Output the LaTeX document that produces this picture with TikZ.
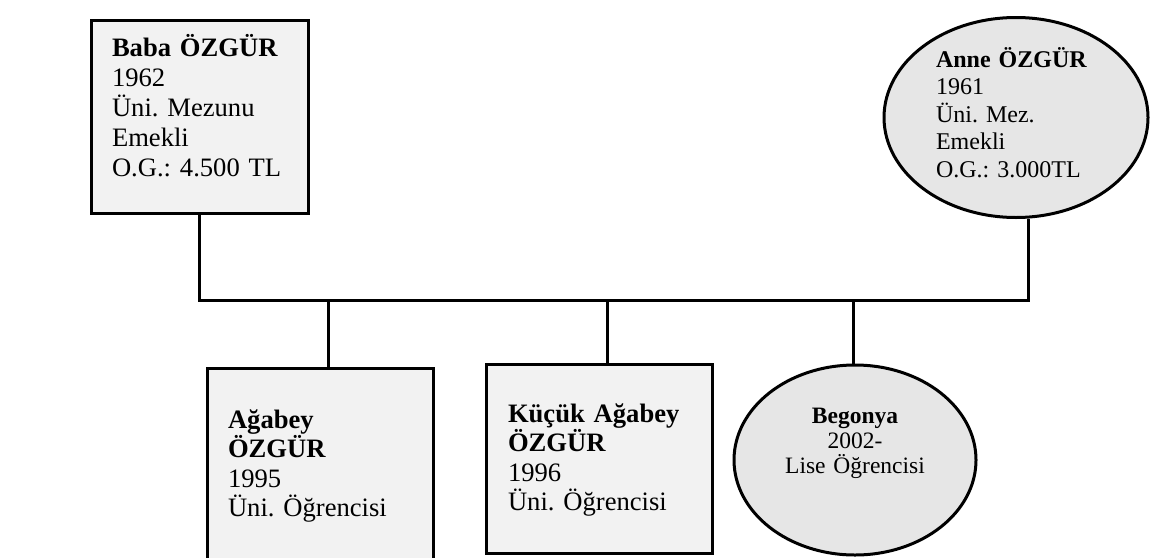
\documentclass[tikz,border=0pt]{standalone}
\usepackage{fontspec}
\setmainfont{Liberation Serif}
\usetikzlibrary{shapes.geometric, positioning}
\definecolor{kutugri}{HTML}{F2F2F2}
\definecolor{elipsgri}{HTML}{E6E6E6}
\frenchspacing
\newcommand{\ebeveynyazi}{\fontsize{13.3pt}{15pt}\selectfont\frenchspacing}
\newcommand{\anneyazi}{\fontsize{12pt}{13.75pt}\selectfont\frenchspacing}
\newcommand{\cocukyazi}{\fontsize{13.3pt}{14.75pt}\selectfont\frenchspacing}
\newcommand{\begonyayazi}{\fontsize{11.75pt}{12.5pt}\selectfont\frenchspacing}
\tikzset{
  kutu/.style={draw, line width=1.5pt, fill=kutugri, inner sep=0pt, align=left, text height=0pt},
  elips/.style={draw, ellipse, line width=1.5pt, fill=elipsgri, inner sep=0pt, text height=0pt},
  bag/.style={line width=1.5pt},
}

\begin{document}
\begin{tikzpicture}[x=0.5pt, y=-0.5pt]
  \useasboundingbox (0,0) rectangle (1155,557);
  % ebeveynler
  \node[kutu, font=\ebeveynyazi, minimum width=108.5pt, minimum height=96.5pt, text width=87.5pt, text depth=60.5pt] (baba) at (199.5,116.5)
    {\textbf{Baba ÖZGÜR}\\1962\\Üni. Mezunu\\Emekli\\O.G.: 4.500 TL};
  \node[elips, font=\anneyazi, align=left, minimum width=132pt, minimum height=100pt, text width=80pt, text depth=50.5pt] (anne) at (1016,117.5)
    {\textbf{Anne ÖZGÜR}\\1961\\Üni. Mez.\\Emekli\\O.G.: 3.000TL};
  % cocuklar
  \node[kutu, font=\cocukyazi, minimum width=113pt, minimum height=99pt, text width=92pt, text depth=39pt] (agabey) at (320,467)
    {\textbf{Ağabey}\\\textbf{ÖZGÜR}\\1995\\Üni. Öğrencisi};
  \node[kutu, font=\cocukyazi, minimum width=113pt, minimum height=94.5pt, text width=91pt, text depth=36.5pt] (kucuk) at (599,458.5)
    {\textbf{Küçük Ağabey}\\\textbf{ÖZGÜR}\\1996\\Üni. Öğrencisi};
  \node[elips, font=\begonyayazi, align=center, minimum width=121pt, minimum height=95pt, text width=72pt, text depth=37pt] (begonya) at (855,460)
    {\textbf{Begonya}\\2002-\\Lise Öğrencisi};
  % baglantilar
  \coordinate (bus) at (1028,300);
  \coordinate (k1) at (328,300);
  \coordinate (k2) at (607,300);
  \coordinate (k3) at (853,300);
  \draw[bag] (baba.south) |- (bus) -- (bus |- anne.south);
  \draw[bag] (k1) -- (k1 |- agabey.north);
  \draw[bag] (k2) -- (k2 |- kucuk.north);
  \draw[bag] (k3) -- (k3 |- begonya.north);
\end{tikzpicture}
\end{document}
